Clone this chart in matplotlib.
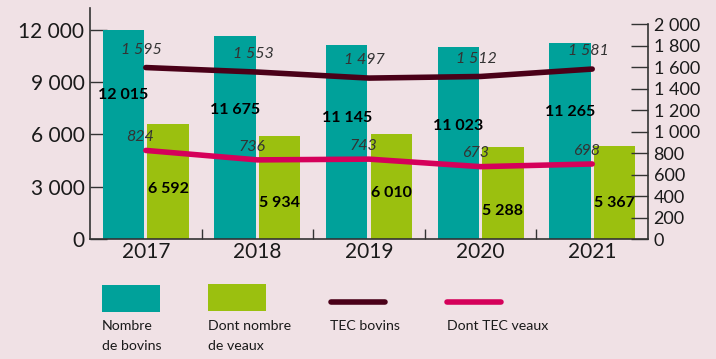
import matplotlib.pyplot as plt
from matplotlib.patches import Rectangle
from matplotlib.lines import Line2D
import numpy as np

plt.rcParams['font.family'] = ['Lato', 'DejaVu Sans']

years = ['2017', '2018', '2019', '2020', '2021']
nb_bovins = [12015, 11675, 11145, 11023, 11265]
nb_veaux = [6592, 5934, 6010, 5288, 5367]
tec_bovins = [1595, 1553, 1497, 1512, 1581]
tec_veaux = [824, 736, 743, 673, 698]

# vertical spots for the bold bar labels (left axis units)
bovins_lab_y = [8270, 7410, 6950, 6490, 7290]
veaux_lab_y = [2870, 2070, 2640, 1610, 2070]

bg = '#f0e1e5'
teal = '#00a19a'
green = '#9bc00f'
dark = '#4a0018'
pink = '#d5005a'
ink = '#1a1a1a'


def fmt(v):
    return f'{v:,}'.replace(',', ' ')


fig = plt.figure(figsize=(7.16, 3.59), dpi=100, facecolor=bg)
ax = fig.add_axes([90 / 716, 1 - 239 / 359, 558 / 716, 231 / 359])
ax.set_facecolor(bg)
ax2 = ax.twinx()

x = np.arange(len(years))
w = 0.37
ax.bar(x - 0.2, nb_bovins, w, color=teal, zorder=2)
ax.bar(x + 0.2, nb_veaux, w, color=green, zorder=2)

for i in range(len(years)):
    ax.text(x[i] - 0.2, bovins_lab_y[i], fmt(nb_bovins[i]), ha='center', va='center',
            fontsize=11.5, fontweight='bold', color='black', zorder=3)
    ax.text(x[i] + 0.2, veaux_lab_y[i], fmt(nb_veaux[i]), ha='center', va='center',
            fontsize=11.5, fontweight='bold', color='black', zorder=3)

ax.set_xlim(-0.5, 4.5)
ax.set_ylim(0, 13263)
ax.set_yticks([0, 3000, 6000, 9000, 12000])
ax.set_yticklabels([fmt(v) for v in [0, 3000, 6000, 9000, 12000]], fontsize=15, color=ink)
ax.set_xticks(x)
ax.set_xticklabels(years, fontsize=15, color=ink)
ax.set_xticks(x[:-1] + 0.5, minor=True)
ax.tick_params(axis='x', which='major', length=0, pad=2)
ax.tick_params(axis='x', which='minor', direction='in', length=7, width=1, color='#333333')
ax.tick_params(axis='y', direction='in', length=12, width=1, color='#333333', pad=4)
ax.spines['top'].set_visible(False)
ax.spines['right'].set_visible(False)
for s in ['left', 'bottom']:
    ax.spines[s].set_color('#333333')
    ax.spines[s].set_linewidth(1.2)

# TEC lines on the right axis
ax2.plot(x, tec_bovins, color=dark, lw=4, solid_capstyle='round', solid_joinstyle='round', zorder=4)
ax2.plot(x, tec_veaux, color=pink, lw=4, solid_capstyle='round', solid_joinstyle='round', zorder=4)
for i in range(len(years)):
    ax2.annotate(fmt(tec_bovins[i]), (x[i], tec_bovins[i]), xytext=(-3, 12.8), textcoords='offset points',
                 ha='center', va='center', fontsize=11.5, style='italic', color='#333333')
    ax2.annotate(fmt(tec_veaux[i]), (x[i], tec_veaux[i]), xytext=(-4, 9.5), textcoords='offset points',
                 ha='center', va='center', fontsize=11.5, style='italic', color='#333333')

ax2.set_ylim(0, 2149)
ax2.set_yticks(range(0, 2001, 200))
ax2.set_yticklabels([fmt(v) for v in range(0, 2001, 200)], fontsize=13, color=ink)
ax2.tick_params(axis='y', direction='in', length=12, width=1, color='#333333', pad=4)
for s in ['top', 'left', 'bottom']:
    ax2.spines[s].set_visible(False)
ax2.spines['right'].set_bounds(0, 2000)
ax2.spines['right'].set_color('#333333')
ax2.spines['right'].set_linewidth(1.2)

# legend drawn in figure pixels
H = 359
fig.add_artist(Rectangle((102 / 716, 1 - 312 / H), 58 / 716, 27 / H, transform=fig.transFigure,
                         color=teal, lw=0))
fig.add_artist(Rectangle((208 / 716, 1 - 311 / H), 58 / 716, 27 / H, transform=fig.transFigure,
                         color=green, lw=0))
fig.add_artist(Line2D([331 / 716, 385 / 716], [1 - 302 / H] * 2, transform=fig.transFigure,
                      color=dark, lw=4, solid_capstyle='round'))
fig.add_artist(Line2D([447 / 716, 501 / 716], [1 - 302 / H] * 2, transform=fig.transFigure,
                      color=pink, lw=4, solid_capstyle='round'))
leg_items = [(102, 'Nombre\nde bovins'), (208, 'Dont nombre\nde veaux'),
             (330, 'TEC bovins'), (447, 'Dont TEC veaux')]
for px, lab in leg_items:
    fig.text(px / 716, 1 - 320 / H, lab, ha='left', va='top', fontsize=10.2, color=ink,
             linespacing=1.85)

fig.savefig('out.png', dpi=100, facecolor=bg)
